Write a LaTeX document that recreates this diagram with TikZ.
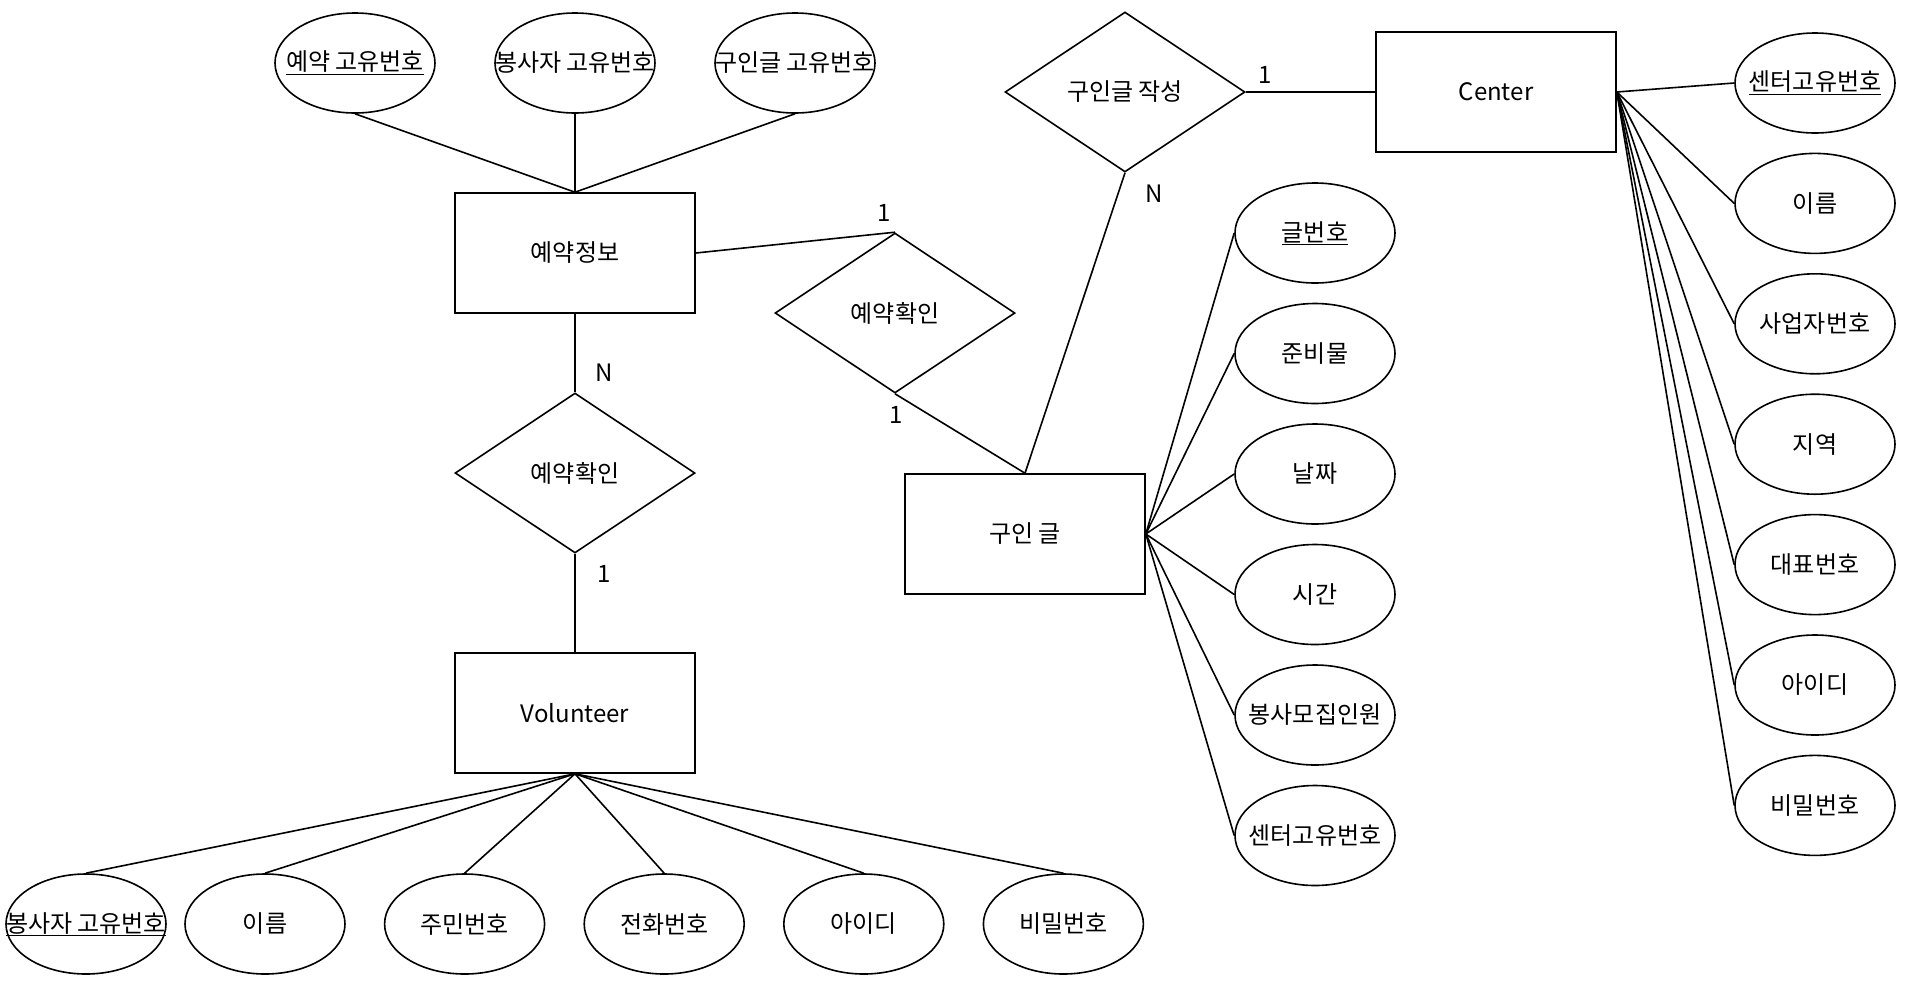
\documentclass[tikz,border=0pt]{standalone}
\usepackage{fontspec}
\setmainfont{Noto Sans CJK KR}
\usetikzlibrary{shapes.geometric}
\usetikzlibrary{positioning}

\tikzset{
  entity/.style={draw, rectangle, minimum width=240pt, minimum height=120pt, inner sep=0pt},
  attr/.style={draw, ellipse, minimum width=160pt, minimum height=100pt, inner sep=0pt},
  rel/.style={draw, diamond, minimum width=240pt, minimum height=160pt, inner sep=0pt},
  card/.style={inner sep=0pt},
}

\begin{document}
\begin{tikzpicture}[x=1pt, y=-1pt, line width=1.6pt, font=\fontsize{24}{29}\selectfont]
\useasboundingbox (0,0) rectangle (1912,1002);

% reservation
\node[entity] (info) at (575,253) {예약정보};
\node[attr] (k1) at (355,63) {\makebox[0pt]{\underline{예약 고유번호}}};
\node[attr] (k2) at (575,63) {\makebox[0pt]{봉사자 고유번호}};
\node[attr] (k3) at (795,63) {\makebox[0pt]{구인글 고유번호}};
\draw (k1.south) -- (info.north);
\draw (k2.south) -- (info.north);
\draw (k3.south) -- (info.north);

% volunteer
\node[rel] (chk-v) at (575,473) {\makebox[0pt]{예약확인}};
\node[entity] (vol) at (575,713) {Volunteer};
\draw (info.south) -- (chk-v.north);
\draw (chk-v.south) -- (vol.north);
\node[card] (chk-v-n) at (604,373) {N};
\node[card] (chk-v-1) at (604,574) {1};

\node[attr] (v1) at (86,924) {\makebox[0pt]{\underline{봉사자 고유번호}}};
\node[attr] (v2) at (265,924) {\makebox[0pt]{이름}};
\node[attr, right=38pt of v2] (v3) {\makebox[0pt]{주민번호}};
\node[attr, right=38pt of v3] (v4) {\makebox[0pt]{전화번호}};
\node[attr, right=38pt of v4] (v5) {\makebox[0pt]{아이디}};
\node[attr, right=38pt of v5] (v6) {\makebox[0pt]{비밀번호}};
\draw (vol.south) -- (v1.north);
\draw (vol.south) -- (v2.north);
\draw (vol.south) -- (v3.north);
\draw (vol.south) -- (v4.north);
\draw (vol.south) -- (v5.north);
\draw (vol.south) -- (v6.north);

% post
\node[rel] (chk-p) at (895,313) {\makebox[0pt]{예약확인}};
\node[entity] (post) at (1025,534) {구인 글};
\draw (info.east) -- (chk-p.north);
\draw (chk-p.south) -- (post.north);
\node[card] (chk-p-1a) at (884,213) {1};
\node[card] (chk-p-1b) at (896,415) {1};

\node[attr] (p1) at (1315,233) {\makebox[0pt]{\underline{글번호}}};
\node[attr, below=18.9pt of p1] (p2) {\makebox[0pt]{준비물}};
\node[attr, below=18.9pt of p2] (p3) {\makebox[0pt]{날짜}};
\node[attr, below=18.9pt of p3] (p4) {\makebox[0pt]{시간}};
\node[attr, below=18.9pt of p4] (p5) {\makebox[0pt]{봉사모집인원}};
\node[attr, below=18.9pt of p5] (p6) {\makebox[0pt]{센터고유번호}};
\draw (post.east) -- (p1.west);
\draw (post.east) -- (p2.west);
\draw (post.east) -- (p3.west);
\draw (post.east) -- (p4.west);
\draw (post.east) -- (p5.west);
\draw (post.east) -- (p6.west);

% center
\node[rel] (write) at (1125,92) {\makebox[0pt]{구인글 작성}};
\node[entity] (center) at (1496,92) {Center};
\draw (write.east) -- (center.west);
\draw (write.south) -- (post.north);
\node[card] (write-1) at (1265,75) {1};
\node[card] (write-n) at (1154,194) {N};

\node[attr] (c1) at (1815,83) {\makebox[0pt]{\underline{센터고유번호}}};
\node[attr, below=18.8pt of c1] (c2) {\makebox[0pt]{이름}};
\node[attr, below=18.8pt of c2] (c3) {\makebox[0pt]{사업자번호}};
\node[attr, below=18.8pt of c3] (c4) {\makebox[0pt]{지역}};
\node[attr, below=18.8pt of c4] (c5) {\makebox[0pt]{대표번호}};
\node[attr, below=18.8pt of c5] (c6) {\makebox[0pt]{아이디}};
\node[attr, below=18.8pt of c6] (c7) {\makebox[0pt]{비밀번호}};
\draw (center.east) -- (c1.west);
\draw (center.east) -- (c2.west);
\draw (center.east) -- (c3.west);
\draw (center.east) -- (c4.west);
\draw (center.east) -- (c5.west);
\draw (center.east) -- (c6.west);
\draw (center.east) -- (c7.west);
\end{tikzpicture}
\end{document}
